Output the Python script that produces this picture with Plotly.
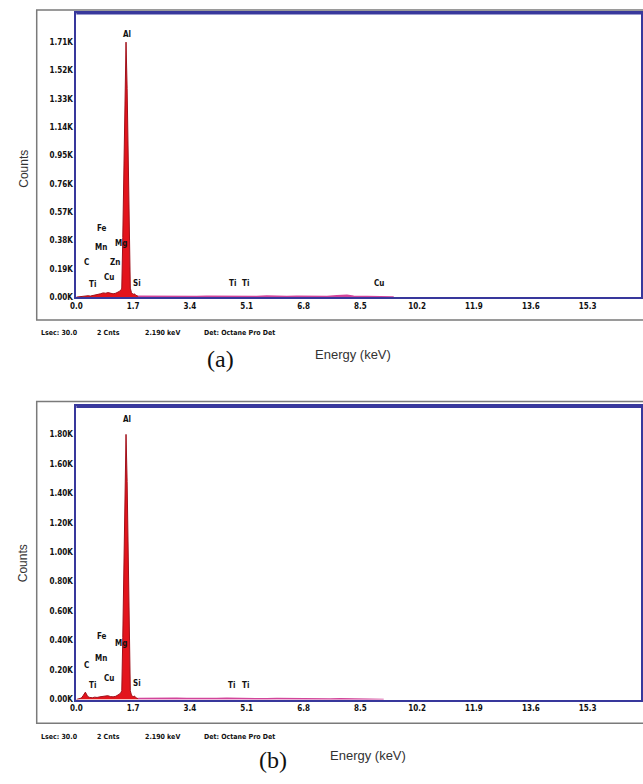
import plotly.graph_objects as go

W, H = 643, 784

# ---------------- data ----------------
# Panel (a) spectrum (energy keV, counts)
energy_a = [0.00, 0.08, 0.15, 0.22, 0.28, 0.35, 0.42, 0.50, 0.58, 0.65, 0.72, 0.80, 0.88,
            0.95, 1.02, 1.10, 1.18, 1.25, 1.30, 1.34, 1.36, 1.39, 1.42, 1.455, 1.487,
            1.52, 1.555, 1.585, 1.615, 1.65, 1.70, 1.74, 1.78, 1.85]
counts_a = [0, 2, 4, 8, 12, 9, 7, 10, 14, 18, 22, 28, 26,
            30, 24, 22, 26, 34, 40, 50, 60, 400, 900, 1400, 1710,
            1400, 900, 400, 60, 30, 18, 22, 12, 6]
base_e_a = [1.85, 2.1, 2.4, 2.7, 3.0, 3.3, 3.6, 3.9, 4.2, 4.5, 4.8, 5.1, 5.4, 5.7, 6.0,
            6.3, 6.6, 6.9, 7.2, 7.5, 7.8, 8.0, 8.1, 8.3, 8.6, 8.9, 9.2, 9.5]
base_c_a = [6, 5, 7, 4, 6, 5, 4, 6, 5, 7, 5, 6, 4, 8, 5,
            4, 6, 4, 5, 4, 9, 14, 12, 6, 4, 5, 3, 0]

# Panel (b) spectrum
energy_b = [0.00, 0.08, 0.15, 0.20, 0.24, 0.27, 0.30, 0.34, 0.40, 0.48, 0.55, 0.62, 0.70,
            0.78, 0.86, 0.94, 1.02, 1.10, 1.18, 1.25, 1.30, 1.34, 1.36, 1.39, 1.42, 1.455,
            1.487, 1.52, 1.555, 1.585, 1.615, 1.65, 1.70, 1.74, 1.78, 1.85]
counts_b = [0, 4, 10, 25, 45, 50, 38, 20, 14, 12, 16, 14, 18,
            20, 22, 26, 20, 18, 22, 30, 38, 50, 60, 420, 950, 1480,
            1800, 1480, 950, 420, 60, 30, 18, 24, 12, 6]
base_e_b = [1.85, 2.1, 2.4, 2.7, 3.0, 3.3, 3.6, 3.9, 4.2, 4.5, 4.8, 5.1, 5.4, 5.7, 6.0,
            6.3, 6.5, 6.7, 7.0, 7.3, 7.6, 7.9, 8.2, 8.5, 8.8, 9.2]
base_c_b = [6, 7, 5, 6, 8, 6, 5, 7, 6, 8, 6, 5, 6, 5, 6,
            5, 9, 5, 4, 5, 4, 5, 4, 4, 3, 0]

# Element labels
elem_a = ["Al", "Fe", "Mn", "Mg", "C", "Zn", "Cu", "Ti", "Si", "Ti", "Ti", "Cu"]
elem_a_e = [1.52, 0.78, 0.74, 1.34, 0.30, 1.16, 0.98, 0.48, 1.82, 4.66, 5.07, 9.05]
elem_a_c = [1760, 460, 330, 360, 230, 230, 130, 87, 93, 93, 93, 93]

elem_b = ["Al", "Fe", "Mg", "Mn", "C", "Cu", "Ti", "Si", "Ti", "Ti"]
elem_b_e = [1.52, 0.78, 1.34, 0.75, 0.30, 0.98, 0.48, 1.82, 4.63, 5.07]
elem_b_c = [1900, 430, 380, 280, 230, 140, 95, 110, 95, 95]

# Axis ticks
x_ticks = [0.0, 1.7, 3.4, 5.1, 6.8, 8.5, 10.2, 11.9, 13.6, 15.3]
x_ticktext = ["0.0", "1.7", "3.4", "5.1", "6.8", "8.5", "10.2", "11.9", "13.6", "15.3"]
y_ticks_a = [0, 190, 380, 570, 760, 950, 1140, 1330, 1520, 1710]
y_ticktext_a = ["0.00K", "0.19K", "0.38K", "0.57K", "0.76K", "0.95K", "1.14K", "1.33K", "1.52K", "1.71K"]
y_ticks_b = [0, 200, 400, 600, 800, 1000, 1200, 1400, 1600, 1800]
y_ticktext_b = ["0.00K", "0.20K", "0.40K", "0.60K", "0.80K", "1.00K", "1.20K", "1.40K", "1.60K", "1.80K"]

footer = ["Lsec: 30.0", "2 Cnts", "2.190 keV", "Det: Octane Pro Det"]

# ---------------- figure ----------------
def px(x):
    return x / W

def py(y):
    return 1 - y / H

RED = "#e3141c"
PINK = "#d2449a"
AXC = "#38389c"
NARROW = "Liberation Sans Narrow, DejaVu Sans Condensed, Arial"
TICKFONT = dict(family=NARROW, size=8, color="#111", weight="bold")

fig = go.Figure()

for (ex, cy, be, bc, xa, ya) in [
    (energy_a, counts_a, base_e_a, base_c_a, "x", "y"),
    (energy_b, counts_b, base_e_b, base_c_b, "x2", "y2"),
]:
    fig.add_trace(go.Scatter(x=be, y=bc, mode="lines", line=dict(color=PINK, width=1.5),
                             fill="tozeroy", fillcolor=PINK, xaxis=xa, yaxis=ya,
                             showlegend=False, hoverinfo="skip"))
    fig.add_trace(go.Scatter(x=ex, y=cy, mode="lines", line=dict(color="#a0101a", width=1),
                             fill="tozeroy", fillcolor=RED, xaxis=xa, yaxis=ya,
                             showlegend=False, hoverinfo="skip"))

xr = [0, 16.9]
dom_x = [px(71), px(641)]
common_x = dict(range=xr, domain=dom_x, tickvals=x_ticks, ticktext=x_ticktext,
                showline=True, linecolor=AXC, linewidth=2, mirror=True,
                showgrid=False, zeroline=False, ticks="", tickfont=TICKFONT)
common_y = dict(showline=True, linecolor=AXC, linewidth=2, mirror=True,
                showgrid=False, zeroline=False, ticks="", tickfont=TICKFONT,
                ticklabelstandoff=0)

fig.update_layout(
    width=W, height=H, margin=dict(l=0, r=0, t=0, b=0),
    paper_bgcolor="white", plot_bgcolor="white",
    xaxis=dict(**common_x, anchor="y"),
    yaxis=dict(**common_y, range=[0, 1906], domain=[py(299), py(13)],
               tickvals=y_ticks_a, ticktext=y_ticktext_a, anchor="x"),
    xaxis2=dict(**common_x, anchor="y2"),
    yaxis2=dict(**common_y, range=[0, 1990], domain=[py(704), py(409)],
                tickvals=y_ticks_b, ticktext=y_ticktext_b, anchor="x2"),
)

shapes = []
# outer gray frames
for (y0, y1) in [(10, 322), (404, 728)]:
    shapes.append(dict(type="rect", xref="paper", yref="paper",
                       x0=px(31), x1=px(660), y0=py(y1), y1=py(y0),
                       line=dict(color="#7a7a7a", width=1.5), fillcolor="rgba(0,0,0,0)", layer="below"))
# thicker top borders
for y in [13, 409]:
    shapes.append(dict(type="line", xref="paper", yref="paper", x0=px(71), x1=px(641),
                       y0=py(y), y1=py(y), line=dict(color=AXC, width=3)))
fig.update_layout(shapes=shapes)

ann = []
LABFONT = dict(family=NARROW, size=8, color="#111", weight="bold")
for names, es, cs, xa, ya in [(elem_a, elem_a_e, elem_a_c, "x", "y"),
                              (elem_b, elem_b_e, elem_b_c, "x2", "y2")]:
    for n, e, c in zip(names, es, cs):
        ann.append(dict(x=e, y=c, xref=xa, yref=ya, text=n, showarrow=False, font=LABFONT,
                        xanchor="center", yanchor="middle"))

# footers
foot_x = [33, 90, 138, 198]
for ybase in [335, 742]:
    for t, fx in zip(footer, foot_x):
        ann.append(dict(x=px(fx), y=py(ybase), xref="paper", yref="paper", text=t,
                        showarrow=False, xanchor="left", yanchor="middle",
                        font=dict(family=NARROW, size=7, color="#111", weight="bold")))

def centered(x, y, text, font, **kw):
    return dict(x=px(x), y=py(y), xref="paper", yref="paper", text=text, showarrow=False,
                xanchor="center", yanchor="middle", font=font, **kw)

# Counts labels
for yc in [170, 567]:
    ann.append(centered(18, yc, "Counts", dict(family="Liberation Sans, Arial", size=12, color="#333"),
                        textangle=-90))

# panel letters and energy labels
SERIF = dict(family="Liberation Serif, Times New Roman", size=24, color="#111")
SANS = dict(family="Liberation Sans, Arial", size=13, color="#333")
ann.append(centered(217, 361, "(a)", SERIF))
ann.append(centered(270, 765, "(b)", SERIF))
ann.append(centered(350, 357, "Energy (keV)", SANS))
ann.append(centered(365, 760, "Energy (keV)", SANS))

fig.update_layout(annotations=ann)

fig.write_html("out.html", config={"displayModeBar": False},
               post_script="document.body.style.margin='0';document.body.style.overflow='hidden';")
